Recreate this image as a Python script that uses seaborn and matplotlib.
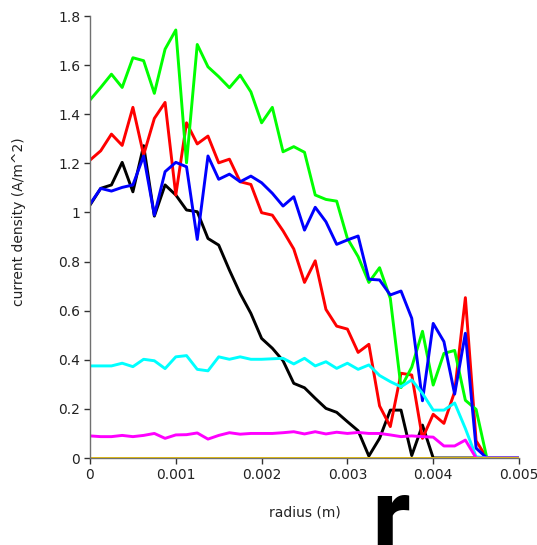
import numpy as np
import pandas as pd
import matplotlib
matplotlib.use("Agg")
import matplotlib.pyplot as plt
from matplotlib.ticker import FuncFormatter
import seaborn as sns

radius = np.linspace(0, 0.005, 41)

black = [1.03, 1.098, 1.112, 1.204, 1.084, 1.272, 0.985, 1.112, 1.071, 1.01, 1.003, 0.894, 0.867,
         0.765, 0.67, 0.589, 0.487, 0.447, 0.396, 0.304, 0.286, 0.243, 0.202, 0.186, 0.148, 0.111,
         0.008, 0.08, 0.195, 0.195, 0.01, 0.134, 0, 0, 0, 0, 0, 0, 0, 0, 0]
red = [1.213, 1.251, 1.319, 1.273, 1.428, 1.234, 1.383, 1.448, 1.071, 1.365, 1.279, 1.311, 1.202,
       1.217, 1.125, 1.114, 0.999, 0.989, 0.925, 0.851, 0.715, 0.803, 0.605, 0.537, 0.525, 0.43,
       0.463, 0.212, 0.128, 0.345, 0.338, 0.08, 0.178, 0.141, 0.27, 0.653, 0.07, 0, 0, 0, 0]
green = [1.458, 1.509, 1.563, 1.509, 1.63, 1.618, 1.485, 1.665, 1.743, 1.202, 1.684, 1.593, 1.553,
         1.508, 1.559, 1.491, 1.365, 1.428, 1.247, 1.268, 1.245, 1.071, 1.053, 1.046, 0.894, 0.82,
         0.715, 0.775, 0.65, 0.287, 0.37, 0.516, 0.297, 0.426, 0.438, 0.235, 0.198, 0, 0, 0, 0]
blue = [1.034, 1.098, 1.087, 1.102, 1.112, 1.23, 0.989, 1.166, 1.204, 1.186, 0.89, 1.23, 1.135,
        1.156, 1.125, 1.148, 1.121, 1.078, 1.026, 1.064, 0.928, 1.021, 0.962, 0.87, 0.888, 0.904,
        0.728, 0.725, 0.664, 0.68, 0.569, 0.233, 0.548, 0.474, 0.26, 0.508, 0.04, 0, 0, 0, 0]
cyan = [0.375, 0.375, 0.375, 0.386, 0.372, 0.402, 0.396, 0.364, 0.412, 0.417, 0.361, 0.355, 0.412,
        0.402, 0.412, 0.402, 0.402, 0.404, 0.406, 0.383, 0.406, 0.375, 0.392, 0.365, 0.386, 0.361,
        0.379, 0.336, 0.311, 0.29, 0.318, 0.263, 0.195, 0.195, 0.224, 0.12, 0.005, 0, 0, 0, 0]
magenta = [0.09, 0.087, 0.087, 0.092, 0.087, 0.092, 0.1, 0.08, 0.094, 0.095, 0.102, 0.077, 0.092,
           0.103, 0.097, 0.1, 0.1, 0.1, 0.103, 0.107, 0.098, 0.107, 0.098, 0.105, 0.1, 0.104,
           0.1, 0.1, 0.094, 0.087, 0.09, 0.087, 0.085, 0.049, 0.049, 0.073, 0, 0, 0, 0, 0]
yellow = [0] * 41

series = {"black": black, "red": red, "green": green, "blue": blue,
          "cyan": cyan, "magenta": magenta, "yellow": yellow}
colors = {"black": "#000000", "red": "#ff0000", "green": "#00ff00", "blue": "#0000ff",
          "cyan": "#00ffff", "magenta": "#ff00ff", "yellow": "#f2c600"}

df = pd.concat([pd.DataFrame({"radius": radius, "J": vals, "s": name})
                for name, vals in series.items()], ignore_index=True)

sns.set_theme(style="ticks")
plt.rcParams["font.family"] = ["DejaVu Sans"]

fig = plt.figure(figsize=(5.37, 5.45), dpi=100)
ax = fig.add_axes([90 / 537, 1 - 458 / 545, 429 / 537, 442 / 545])

sns.lineplot(data=df, x="radius", y="J", hue="s", hue_order=list(series.keys()),
             palette=colors, linewidth=2.1, legend=False, ax=ax, estimator=None)

ax.set_xlim(0, 0.005)
ax.set_ylim(0, 1.8)
ax.set_xticks([0, 0.001, 0.002, 0.003, 0.004, 0.005])
ax.set_yticks(np.arange(0, 1.81, 0.2))
fmt = FuncFormatter(lambda v, p: "%g" % round(v, 6))
ax.xaxis.set_major_formatter(fmt)
ax.yaxis.set_major_formatter(fmt)
for s in ["top", "right"]:
    ax.spines[s].set_visible(False)
for s in ["left", "bottom"]:
    ax.spines[s].set_color("#707070")
    ax.spines[s].set_linewidth(1.0)
ax.tick_params(axis="both", direction="out", length=4, width=1, color="#333333",
               labelsize=10, labelcolor="#222222", pad=3)

ax.set_xlabel("radius (m)", fontsize=10, color="#222222", labelpad=17)
ax.set_ylabel("current density (A/m^2)", fontsize=10, color="#222222")
ax.yaxis.set_label_coords(-0.15, 0.534)

fig.text(0.692, -0.012, "r", fontsize=76, fontweight="bold",
         family=["Roboto", "DejaVu Sans"], ha="left", va="baseline", color="black")

fig.savefig("out.png", dpi=100)
